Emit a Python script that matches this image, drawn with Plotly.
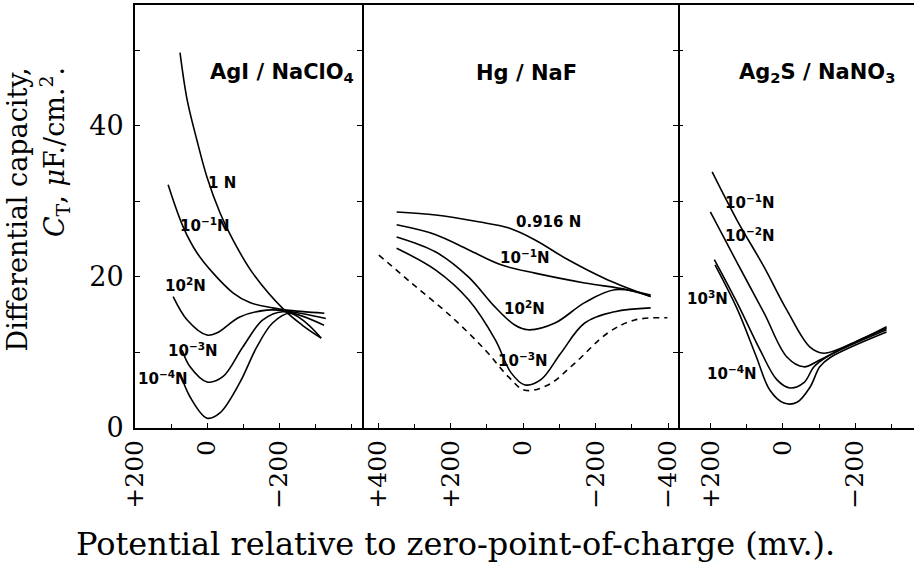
import plotly.graph_objects as go

# ---- panel 1: AgI / NaClO4 ----
agi_1n_mv = [75, 55, 28, 0, -36, -72, -127, -215, -265, -317]
agi_1n_c = [49.7, 43.4, 38.1, 33.2, 28.5, 24.9, 20.5, 15.6, 13.6, 11.9]
agi_m1_mv = [108, 66, 28, -17, -72, -119, -182, -221, -326]
agi_m1_c = [32.2, 26.6, 23.2, 20.5, 17.9, 16.6, 15.9, 15.6, 15.2]
agi_m2_mv = [94, 55, 0, -28, -91, -166, -221, -330]
agi_m2_c = [17.4, 14.3, 12.3, 12.6, 14.7, 15.6, 15.5, 14.5]
agi_m3_mv = [69, 47, 0, -44, -99, -155, -210, -325]
agi_m3_c = [10.3, 8.1, 6.1, 6.8, 10.7, 14.3, 15.4, 13.6]
agi_m4_mv = [75, 47, 0, -36, -91, -138, -182, -229, -276, -317]
agi_m4_c = [7.3, 4.1, 1.3, 2.0, 6.0, 10.7, 13.9, 15.2, 13.9, 11.9]

# ---- panel 2: Hg / NaF ----
hg_916_mv = [349, 241, 123, 41, -33, -123, -234, -352]
hg_916_c = [28.6, 28.2, 27.3, 26.5, 24.9, 22.3, 19.6, 17.4]
hg_m1_mv = [349, 241, 151, 61, -33, -170, -288, -352]
hg_m1_c = [26.9, 25.6, 23.6, 21.6, 20.5, 19.2, 18.3, 17.4]
hg_m2_mv = [349, 241, 151, 77, 22, -14, -88, -170, -253, -352]
hg_m2_c = [25.3, 23.3, 20.0, 16.0, 13.6, 13.0, 13.9, 16.6, 18.3, 17.6]
hg_m3_mv = [349, 241, 151, 77, 33, -5, -49, -104, -170, -253, -352]
hg_m3_c = [23.8, 20.9, 17.0, 11.7, 7.3, 5.7, 6.4, 9.9, 13.9, 15.4, 15.9]
hg_dash_mv = [398, 308, 197, 104, 41, -5, -69, -143, -234, -308, -398]
hg_dash_c = [22.9, 19.2, 14.7, 10.3, 6.8, 5.0, 5.7, 8.6, 12.6, 14.3, 14.6]

# ---- panel 3: Ag2S / NaNO3 ----
ags_m1_mv = [196, 127, 52, -11, -75, -113, -196, -287]
ags_m1_c = [33.9, 27.5, 21.3, 15.6, 10.7, 9.9, 11.3, 13.4]
ags_m2_mv = [201, 127, 52, -11, -58, -102, -196, -287]
ags_m2_c = [28.6, 21.9, 15.2, 9.4, 8.1, 9.0, 11.3, 13.2]
ags_m3_mv = [190, 127, 63, 17, -19, -58, -86, -121, -287]
ags_m3_c = [22.3, 16.6, 10.3, 6.4, 5.3, 6.0, 8.1, 9.4, 13.0]
ags_m4_mv = [188, 127, 75, 36, -3, -39, -75, -102, -130, -287]
ags_m4_c = [21.6, 15.8, 9.6, 5.0, 3.3, 3.4, 5.4, 8.1, 9.3, 12.7]

# axis ticks
y_tickvals = [0, 20, 40]
y_ticktext = ["0", "20", "40"]
x1_tickvals = [200, 0, -200]
x1_ticktext = ["+200", "0", "\u2212200"]
x2_tickvals = [400, 200, 0, -200, -400]
x2_ticktext = ["+400", "+200", "0", "\u2212200", "\u2212400"]
x3_tickvals = [200, 0, -200]
x3_ticktext = ["+200", "0", "\u2212200"]

panel_titles = ["AgI / NaClO<sub>4</sub>", "Hg / NaF", "Ag<sub>2</sub>S / NaNO<sub>3</sub>"]

SERIF = "DejaVu Serif"
SANS = "DejaVu Sans"

fig = go.Figure()

def curve(x, y, ax, dash="solid"):
    fig.add_trace(go.Scatter(
        x=x, y=y, xaxis=ax[0], yaxis=ax[1], mode="lines",
        line=dict(color="black", width=1.6, shape="spline", smoothing=1.0, dash=dash),
        showlegend=False, hoverinfo="skip"))

for xs, ys in [(agi_1n_mv, agi_1n_c), (agi_m1_mv, agi_m1_c), (agi_m2_mv, agi_m2_c),
               (agi_m3_mv, agi_m3_c), (agi_m4_mv, agi_m4_c)]:
    curve(xs, ys, ("x", "y"))
for xs, ys in [(hg_916_mv, hg_916_c), (hg_m1_mv, hg_m1_c), (hg_m2_mv, hg_m2_c),
               (hg_m3_mv, hg_m3_c)]:
    curve(xs, ys, ("x2", "y2"))
curve(hg_dash_mv, hg_dash_c, ("x2", "y2"), dash="6px,5px")
for xs, ys in [(ags_m1_mv, ags_m1_c), (ags_m2_mv, ags_m2_c), (ags_m3_mv, ags_m3_c),
               (ags_m4_mv, ags_m4_c)]:
    curve(xs, ys, ("x3", "y3"))

# curve labels (text, x, y, panel)
curve_labels = [
    ("1 N", -41, 32.5, 1), ("10<sup>\u22121</sup>N", 6, 26.9, 1),
    ("10<sup>2</sup>N", 61, 18.9, 1), ("10<sup>\u22123</sup>N", 39, 10.3, 1),
    ("10<sup>\u22124</sup>N", 121, 6.6, 1),
    ("0.916 N", -69, 27.3, 2), ("10<sup>\u22121</sup>N", -5, 22.6, 2),
    ("10<sup>2</sup>N", -5, 15.9, 2), ("10<sup>\u22123</sup>N", 0, 9.0, 2),
    ("10<sup>\u22121</sup>N", 91, 29.9, 3), ("10<sup>\u22122</sup>N", 91, 25.6, 3),
    ("10<sup>3</sup>N", 210, 17.2, 3), ("10<sup>\u22124</sup>N", 140, 7.3, 3),
]
annotations = []
for txt, xv, yv, p in curve_labels:
    sfx = "" if p == 1 else str(p)
    annotations.append(dict(text="<b>" + txt + "</b>", x=xv, y=yv, xref="x" + sfx,
                            yref="y" + sfx, showarrow=False,
                            font=dict(family=SANS, size=15, color="black")))

for txt, xv, p in zip(panel_titles, [-207, -8, -93], [1, 2, 3]):
    sfx = "" if p == 1 else str(p)
    annotations.append(dict(text="<b>" + txt + "</b>", x=xv, y=47.0, xref="x" + sfx,
                            yref="y" + sfx, showarrow=False,
                            font=dict(family=SANS, size=21, color="black")))

# axis titles (plot area spans x 135..918, y 5..428 in page pixels)
annotations.append(dict(text="Differential capacity,", textangle=-90,
                        x=-0.151, y=0.858, xref="paper", yref="paper",
                        xanchor="center", yanchor="top", showarrow=False,
                        font=dict(family=SERIF, size=27, color="black")))
annotations.append(dict(text="<i>C</i><sub>T</sub>, <i>\u03bc</i>F./cm.<sup>2</sup>.", textangle=-90,
                        x=-0.104, y=0.858, xref="paper", yref="paper",
                        xanchor="center", yanchor="top", showarrow=False,
                        font=dict(family=SERIF, size=27, color="black")))
annotations.append(dict(text="Potential relative to zero-point-of-charge (mv.).",
                        x=0.411, y=-0.274, xref="paper", yref="paper",
                        xanchor="center", yanchor="middle", showarrow=False,
                        font=dict(family=SERIF, size=32, color="black")))

d1 = 228 / 783
d2 = 546 / 783

xcommon = dict(showline=True, linecolor="black", linewidth=2, mirror=True,
               ticks="inside", ticklen=5, tickcolor="black", tickangle=-90,
               showgrid=False, zeroline=False,
               tickfont=dict(family=SERIF, size=25, color="black"),
               minor=dict(dtick=100, ticks="inside", ticklen=4, tickcolor="black", showgrid=False))
ycommon = dict(range=[0, 56.0], ticks="inside", ticklen=5, tickcolor="black",
               showgrid=False, zeroline=False, tickvals=y_tickvals,
               minor=dict(dtick=10, ticks="inside", ticklen=5, tickcolor="black", showgrid=False))

fig.update_layout(
    width=918, height=569,
    margin=dict(l=135, r=0, t=5, b=141),
    paper_bgcolor="white", plot_bgcolor="white",
    xaxis=dict(domain=[0, d1], range=[200, -430], tickvals=x1_tickvals,
               ticktext=x1_ticktext, anchor="y", **xcommon),
    xaxis2=dict(domain=[d1, d2], range=[445, -428], tickvals=x2_tickvals,
                ticktext=x2_ticktext, anchor="y2", **xcommon),
    xaxis3=dict(domain=[d2, 1], range=[290, -363], tickvals=x3_tickvals,
                ticktext=x3_ticktext, anchor="y3", **xcommon),
    yaxis=dict(anchor="x", showline=True, linecolor="black", linewidth=2,
               mirror="allticks", ticktext=y_ticktext, ticklabelstandoff=4,
               tickfont=dict(family=SERIF, size=27, color="black"), **ycommon),
    yaxis2=dict(anchor="x2", side="right", showline=True, linecolor="black",
                linewidth=2, showticklabels=False, **ycommon),
    yaxis3=dict(anchor="x3", showline=False, showticklabels=False, **ycommon),
    annotations=annotations,
)

# the page's default body margin would shift the 918x569 figure; drop it
fig.write_html("out.html", config={"displayModeBar": False},
               post_script="document.body.style.margin='0';document.body.style.overflow='hidden';")
